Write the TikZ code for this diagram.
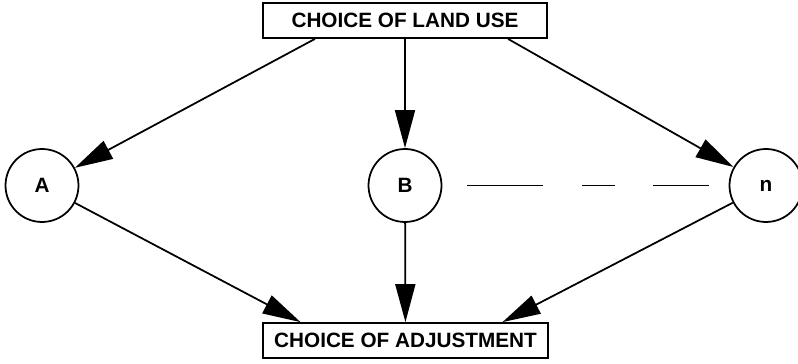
\documentclass[tikz,border=0pt]{standalone}
\usepackage{fontspec}
\setmainfont{Liberation Sans}
\usetikzlibrary{arrows.meta}
\tikzset{
  choicebox/.style={draw, line width=1pt, minimum width=5.68cm, minimum height=0.7cm, inner sep=0pt, font=\fontsize{11.8}{13}\selectfont\bfseries},
  usecircle/.style={draw, circle, line width=1pt, minimum size=1.46cm, inner sep=0pt, font=\fontsize{11.8}{13}\selectfont\bfseries},
  bigarrow/.style={line width=1pt, -{Triangle[length=0.76cm, width=0.4cm]}}
}
\begin{document}
\begin{tikzpicture}[x=0.02cm, y=-0.02cm]
        \useasboundingbox (0,0) rectangle (798,364);
        % 箱の描画
        \node[choicebox] (land) at (405,20.5) {CHOICE OF LAND USE};
        \node[choicebox, minimum width=5.7cm] (adjust) at (405.5,340.5) {CHOICE OF ADJUSTMENT};

        % 円の描画
        \foreach \name/\x/\label in {A/42/A, B/405/B, n/766/n}
            \node[usecircle] (\name) at (\x,185.5) {\label};

        % 上の矢印
        \draw[bigarrow] ([xshift=-1.8cm]land.south) -- (A);
        \draw[bigarrow] (land) -- (B);
        \draw[bigarrow] ([xshift=2.06cm]land.south) -- (n);

        % 下の矢印
        \draw[bigarrow] (A) -- ([xshift=-2.1cm]adjust.north);
        \draw[bigarrow] (B) -- (adjust);
        \draw[bigarrow] (n) -- ([xshift=1.94cm]adjust.north);

        % 破線
        \draw[line width=1pt, dash pattern=on 1.52cm off 0.78cm on 0.66cm off 0.76cm on 1.14cm]
            ([xshift=0.5cm]B.east) -- ([xshift=-0.4cm]n.west);
    \end{tikzpicture}
\end{document}
